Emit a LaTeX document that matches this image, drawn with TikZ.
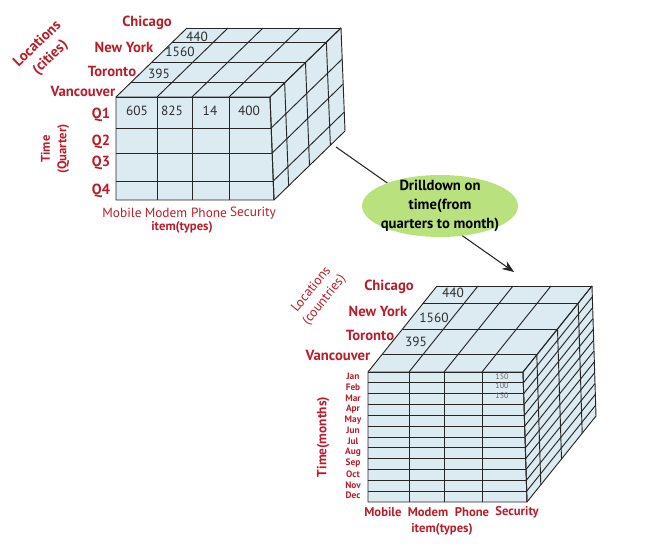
\documentclass[tikz,border=0pt]{standalone}
\usepackage{fontspec}
\setmainfont{PT Sans}
\usetikzlibrary{arrows.meta,shapes.geometric}
\definecolor{lab}{RGB}{184,30,42}
\definecolor{cubefill}{RGB}{219,235,241}
\definecolor{ellfill}{RGB}{185,225,125}
\definecolor{numc}{RGB}{45,45,45}
\begin{document}
\begin{tikzpicture}[x=0.75pt,y=-0.75pt,
  cl/.style={draw=black!85,line width=0.7pt},
  lbl/.style={text=lab,inner sep=0pt,font=\bfseries\fontsize{11}{13}\selectfont},
  axl/.style={text=lab,inner sep=0pt,font=\fontsize{10}{12}\selectfont},
  axb/.style={text=lab,inner sep=0pt,font=\bfseries\fontsize{9.5}{12}\selectfont},
  mon/.style={text=lab,inner sep=0pt,font=\bfseries\fontsize{7}{8}\selectfont},
  num/.style={text=numc,inner sep=0pt,font=\fontsize{10}{12}\selectfont},
  snum/.style={text=black!60,inner sep=0pt,font=\fontsize{6}{7}\selectfont},
  ell/.style={ellipse,fill=ellfill,minimum width=117pt,minimum height=46.5pt,align=center,inner sep=-3.8pt,font=\bfseries\fontsize{11}{14.25}\selectfont}]
\useasboundingbox (0,0) rectangle (659,559);

%% ---------- top-left cube ----------
\def\dx{71}\def\dy{69}
\fill[cubefill] (116,97) -- (270,97) -- ++(\dx,-\dy) -- ({116+\dx},{97-\dy}) -- cycle;
\fill[cubefill] (270,97) -- (274,200) -- ++(\dx,-\dy) -- ({270+\dx},{97-\dy}) -- cycle;
\fill[cubefill] (116,97) -- (270,97) -- (274,200) -- (116,200) -- cycle;
\foreach \t in {0,0.206,0.5,0.794,1}{
  \draw[cl] ({116+\t*\dx},{97-\t*\dy}) -- ({270+\t*\dx},{97-\t*\dy});
  \draw[cl] ({270+\t*\dx},{97-\t*\dy}) -- ({274+\t*\dx},{200-\t*\dy});
}
\foreach \x in {116,157,192,229,270} \draw[cl] (\x,97) -- ++(\dx,-\dy);
\foreach \y in {97,128,153,181,200} \draw[cl] ({270+4*(\y-97)/103},\y) -- ++(\dx,-\dy);
\foreach \x in {157,192,229} \draw[cl] (\x,97) -- (\x,200);
\foreach \y in {128,153,181} \draw[cl] (116,\y) -- ({270+4*(\y-97)/103},\y);
\draw[cl] (116,97) -- (270,97) -- (274,200) -- (116,200) -- cycle;

\node[num] (n440a) at (197,37) {440};
\node[num] (n1560a) at (180,52) {1560};
\node[num] (n395a) at (159,74) {395};
\node[num] (n605) at (137,111) {605};
\node[num] (n825) at (172,111) {825};
\node[num] (n14) at (210,111) {14};
\node[num] (n400) at (249,111) {400};

\node[lbl] (chia) at (147,23) {Chicago};
\node[lbl] (nya) at (124,47) {New York};
\node[lbl] (tora) at (112,71) {Toronto};
\node[lbl] (vana) at (83,91) {Vancouver};
\node[lbl] (q1) at (101,115) {Q1};
\node[lbl] (q2) at (101,142) {Q2};
\node[lbl] (q3) at (101,163) {Q3};
\node[lbl] (q4) at (101,191) {Q4};
\node[lbl,rotate=44,align=center,font=\bfseries\fontsize{11}{14}\selectfont] (loca) at (44,51) {Locations\\(cities)};
\node[lbl,rotate=90,align=center,font=\bfseries\fontsize{9.5}{12.5}\selectfont] (timea) at (55,149) {Time\\(Quarter)};
\node[axl] (moba) at (122,213) {Mobile};
\node[axl] (moda) at (166,213) {Modem};
\node[axl] (phoa) at (209,213) {Phone};
\node[axl] (seca) at (253,213) {Security};
\node[axb] (itma) at (182,227) {item(types)};

%% ---------- arrow and ellipse ----------
\coordinate (a1) at (336,147);
\coordinate (a2) at (514,272);
\draw[line width=0.8pt,black!85,-{Stealth[length=9pt,width=7pt]}] (a1) -- (a2);
\node[ell] (drill) at (440,206) {Drilldown on\\time(from\\quarters to month)};

%% ---------- bottom-right cube ----------
\def\ex{69}\def\ey{86}
\fill[cubefill] (368,372) -- (523,372) -- ++(\ex,-\ey) -- ({368+\ex},{372-\ey}) -- cycle;
\fill[cubefill] (523,372) -- (527,502) -- ++(\ex,-\ey) -- ({523+\ex},{372-\ey}) -- cycle;
\fill[cubefill] (368,372) -- (523,372) -- (527,502) -- (368,502) -- cycle;
\foreach \t in {0,0.2,0.5,0.8,1}{
  \draw[cl] ({368+\t*\ex},{372-\t*\ey}) -- ({523+\t*\ex},{372-\t*\ey});
  \draw[cl] ({523+\t*\ex},{372-\t*\ey}) -- ({527+\t*\ex},{502-\t*\ey});
}
\foreach \x in {368,409,444,482,523} \draw[cl] (\x,372) -- ++(\ex,-\ey);
\foreach \k in {0,...,12}{
  \pgfmathsetmacro\yy{372+\k*130/12}
  \draw[cl] ({523+4*(\yy-372)/130},\yy) -- ++(\ex,-\ey);
}
\foreach \x in {409,444,482} \draw[cl] (\x,372) -- (\x,502);
\foreach \k in {1,...,11}{
  \pgfmathsetmacro\yy{372+\k*130/12}
  \draw[cl] (368,\yy) -- ({523+4*(\yy-372)/130},\yy);
}
\draw[cl] (368,372) -- (523,372) -- (527,502) -- (368,502) -- cycle;

\node[num] (n440b) at (453,293) {440};
\node[num] (n1560b) at (434,318) {1560};
\node[num] (n395b) at (416,342) {395};
\node[snum] (v1) at (502,377) {150};
\node[snum] (v2) at (502,386) {100};
\node[snum] (v3) at (502,396) {150};

\node[lbl] (chib) at (389,287) {Chicago};
\node[lbl] (nyb) at (378,311) {New York};
\node[lbl] (torb) at (370,335) {Toronto};
\node[lbl] (vanb) at (338,355) {Vancouver};
\node[axl,rotate=51,align=center,font=\fontsize{10}{12.5}\selectfont] (locb) at (318,295) {Locations\\(countries)};
\node[lbl,rotate=90,font=\bfseries\fontsize{10}{12}\selectfont] (timeb) at (323,437) {Time(months)};

\foreach \m [count=\i from 0] in {Jan,Feb,Mar,Apr,May,Jun,Jul,Aug,Sep,Oct,Nov,Dec}{
  \node[mon] (m\i) at (353,{376.5+\i*130/12}) {\m};
}

\node[axb] (mobb) at (383,512) {Mobile};
\node[axb] (modb) at (428,512) {Modem};
\node[axb] (phob) at (472,512) {Phone};
\node[axb] (secb) at (517,512) {Security};
\node[axb] (itmb) at (442,529) {item(types)};
\end{tikzpicture}
\end{document}
